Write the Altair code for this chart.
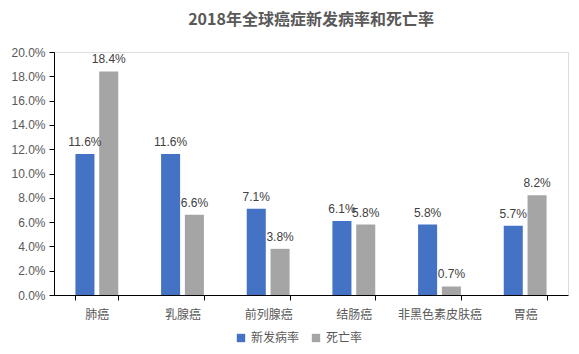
import altair as alt
import pandas as pd

categories = ["肺癌", "乳腺癌", "前列腺癌", "结肠癌", "非黑色素皮肤癌", "胃癌"]
series = ["新发病率", "死亡率"]
incidence = [0.116, 0.116, 0.071, 0.061, 0.058, 0.057]
mortality = [0.184, 0.066, 0.038, 0.058, 0.007, 0.082]
y_ticks = [0.0, 0.02, 0.04, 0.06, 0.08, 0.10, 0.12, 0.14, 0.16, 0.18, 0.20]
colors = ["#4472C4", "#A5A5A5"]

rows = []
for c, a, b in zip(categories, incidence, mortality):
    rows.append({"cat": c, "series": series[0], "value": a})
    rows.append({"cat": c, "series": series[1], "value": b})
df = pd.DataFrame(rows)

FONT_CJK = "Noto Sans CJK SC"
FONT_NUM = "Liberation Sans"

x = alt.X("cat:N", sort=categories, title=None,
          scale=alt.Scale(paddingInner=0.5, paddingOuter=0.25),
          axis=alt.Axis(labelAngle=0, labelFont=FONT_CJK, labelFontSize=12,
                        labelColor="#595959", labelPadding=9, tickBand="extent",
                        tickSize=5, tickColor="#000000", domainColor="#000000",
                        grid=False, labelOverlap=False))
xo = alt.XOffset("series:N", sort=series, scale=alt.Scale(paddingInner=0.2))
y = alt.Y("value:Q", title=None,
          scale=alt.Scale(domain=[0, 0.2], nice=False),
          axis=alt.Axis(format=".1%", values=y_ticks,
                        labelFont=FONT_NUM, labelFontSize=12, labelColor="#595959",
                        tickSize=5, tickColor="#000000", domainColor="#000000",
                        grid=False, labelPadding=4, labelOverlap=False))

base = alt.Chart(df).encode(x=x, xOffset=xo, y=y)

bars = base.mark_bar().encode(
    color=alt.Color("series:N", sort=series,
                    scale=alt.Scale(domain=series, range=colors),
                    legend=alt.Legend(title=None, orient="none", direction="horizontal",
                                      legendX=181, legendY=280,
                                      symbolType="square", symbolSize=70,
                                      labelFont=FONT_CJK, labelFontSize=12,
                                      labelColor="#595959", columnPadding=10,
                                      symbolStrokeWidth=0))
)

text = base.mark_text(baseline="bottom", dy=-5, font=FONT_NUM,
                      fontSize=12, color="#404040").encode(
    text=alt.Text("value:Q", format=".1%")
)

chart = alt.layer(bars, text).properties(
    width=514, height=243,
    title=alt.TitleParams("2018年全球癌症新发病率和死亡率", font=FONT_CJK,
                          fontSize=16, fontWeight="bold", color="#595959",
                          anchor="middle", offset=18),
    padding={"left": 54, "top": 52, "right": 11, "bottom": 59},
    autosize=alt.AutoSizeParams(type="none"),
).configure_view(stroke=None).configure(background="white")

chart.save("out.html", embed_options={"renderer": "svg", "actions": False})
